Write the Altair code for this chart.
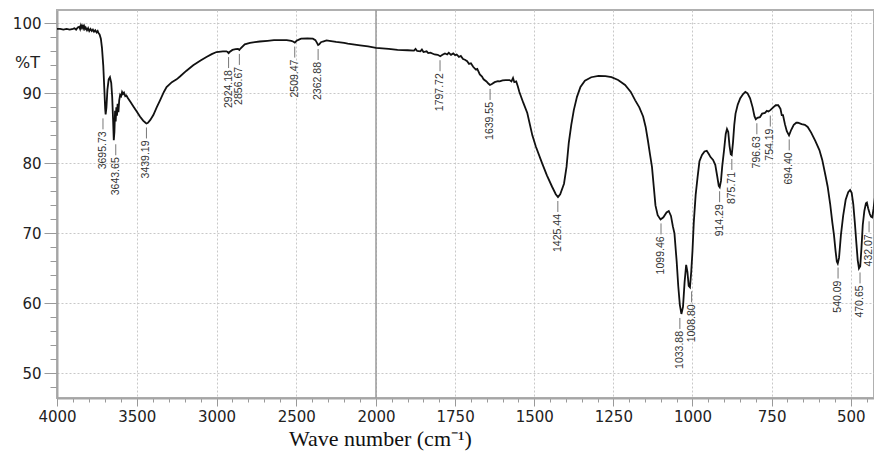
import altair as alt
import pandas as pd

# ---- spectrum (wavenumber cm-1, %T) ----
wn = [4000, 3980, 3960, 3940, 3920, 3900, 3890, 3880, 3870, 3860, 3855, 3850, 3845, 3840, 3835,
      3830, 3825, 3820, 3812, 3805, 3798, 3790, 3782, 3775, 3768, 3760, 3752, 3745, 3740, 3733,
      3725, 3718, 3710, 3703, 3698, 3695, 3690, 3684, 3676, 3668, 3660, 3654, 3648, 3644, 3640,
      3636, 3632, 3628, 3624, 3620, 3615, 3610, 3604, 3598, 3592, 3586, 3580, 3572, 3565, 3555,
      3540, 3520, 3500, 3480, 3460, 3445, 3439, 3430, 3415, 3396, 3375, 3354, 3330, 3313, 3280,
      3250, 3229, 3190, 3146, 3100, 3063, 3030, 3000, 2960, 2938, 2930, 2924, 2918, 2900, 2880,
      2865, 2857, 2850, 2823, 2790, 2760, 2729, 2680, 2640, 2604, 2560, 2531, 2520, 2509, 2498,
      2480, 2469, 2430, 2396, 2380, 2370, 2363, 2356, 2345, 2333, 2310, 2292, 2250, 2200, 2177,
      2100, 2050, 2000, 1960, 1932, 1900, 1880, 1875, 1870, 1860, 1855, 1850, 1840, 1835, 1828,
      1815, 1805, 1797, 1790, 1782, 1775, 1770, 1763, 1756, 1750, 1745, 1738, 1732, 1725, 1719,
      1712, 1706, 1700, 1693, 1685, 1680, 1672, 1665, 1660, 1651, 1645, 1640, 1635, 1625, 1615,
      1609, 1600, 1590, 1578, 1572, 1567, 1563, 1557, 1552, 1547, 1535, 1522, 1506, 1495, 1475,
      1460, 1444, 1432, 1425, 1418, 1406, 1398, 1391, 1383, 1375, 1365, 1354, 1340, 1320, 1297,
      1275, 1256, 1235, 1213, 1195, 1181, 1168, 1156, 1148, 1141, 1134, 1128, 1122, 1117, 1110,
      1101, 1092, 1082, 1075, 1068, 1062, 1057, 1050, 1045, 1040, 1035, 1030, 1025, 1020, 1016,
      1012, 1008, 1004, 1000, 996, 990, 984, 978, 970, 962, 955, 948, 943, 935, 928,
      922, 917, 914, 910, 906, 900, 895, 891, 887, 883, 879, 876, 872, 868, 864,
      857, 849, 840, 833, 826, 818, 810, 804, 800, 795, 787, 780, 771, 765, 760,
      754, 745, 737, 729, 722, 718, 714, 708, 702, 695, 688, 680, 672, 667, 655,
      645, 636, 625, 612, 599, 590, 580, 573, 565, 558, 553, 548, 544, 541, 537,
      531, 524, 516, 508, 502, 497, 492, 487, 482, 478, 474, 470, 466, 462, 457,
      452, 449, 445, 440, 436, 432, 428, 424, 420, 416.5]
T = [99.2, 99.2, 99.1, 99.2, 99.1, 99.2, 99.3, 99.1, 99.4, 99.5, 99.2, 99.7, 99.4, 99.8, 99.3,
     99.6, 99.2, 99.4, 99.0, 99.3, 98.9, 99.2, 98.9, 99.1, 98.8, 99.0, 98.7, 98.9, 98.6, 98.4,
     97.8, 96.5, 94.0, 90.5, 87.8, 87.0, 88.0, 90.5, 92.0, 92.3, 91.5, 89.5, 86.0, 83.3, 84.5,
     87.5, 86.0, 88.0, 86.8, 88.5, 87.3, 89.0, 89.8, 89.6, 90.2, 89.9, 90.1, 89.6, 89.7, 89.3,
     88.8, 88.1, 87.4, 86.7, 86.1, 85.8, 85.7, 85.8, 86.2, 86.9, 88.0, 89.0, 90.2, 90.9, 91.6,
     92.0, 92.4, 93.2, 94.0, 94.7, 95.2, 95.6, 95.9, 96.0, 96.0, 95.9, 95.75, 95.9, 96.2, 96.3,
     96.35, 96.2, 96.4, 97.0, 97.2, 97.3, 97.4, 97.5, 97.6, 97.6, 97.6, 97.5, 97.4, 97.25, 97.5,
     97.7, 97.8, 97.85, 97.8, 97.6, 97.2, 96.9, 97.0, 97.3, 97.4, 97.55, 97.5, 97.35, 97.2, 97.1,
     96.85, 96.7, 96.5, 96.35, 96.2, 96.15, 96.1, 96.35, 96.05, 96.0, 96.25, 95.9, 96.0, 95.75, 95.8,
     95.55, 95.5, 95.3, 95.5, 95.7, 95.55, 95.8, 95.5, 95.7, 95.45, 95.55, 95.2, 95.35, 94.9, 94.8,
     94.6, 94.2, 94.3, 93.8, 93.4, 93.5, 92.7, 92.4, 92.0, 91.7, 91.4, 91.2, 91.3, 91.6, 91.75,
     91.7, 91.85, 91.9, 91.9, 91.7, 92.2, 91.6, 91.7, 91.0, 90.2, 88.7, 87.2, 84.0, 82.4, 80.0,
     78.3, 76.7, 75.6, 75.2, 75.6, 77.1, 79.5, 82.9, 85.5, 87.6, 89.5, 90.9, 91.8, 92.3, 92.5,
     92.45, 92.3, 91.9, 91.2, 90.2, 89.0, 88.0, 86.7, 85.2, 83.3, 81.2, 79.5, 76.5, 74.0, 72.6,
     72.0, 72.3, 73.0, 73.2, 72.5, 71.0, 70.0, 66.0, 62.5, 59.8, 58.5, 59.5, 63.0, 65.5, 64.5,
     62.5, 62.3, 64.5, 67.5, 71.5, 75.5, 78.0, 80.3, 81.2, 81.7, 81.8, 81.3, 80.9, 80.5, 79.8,
     78.2, 76.8, 76.6, 77.5, 79.6, 82.0, 84.2, 84.9, 84.5, 82.5, 81.3, 81.2, 83.0, 85.5, 87.1,
     88.4, 89.3, 89.9, 90.2, 90.0, 89.3, 88.0, 86.7, 86.3, 86.5, 86.6, 87.1, 87.2, 87.5, 87.4,
     87.6, 88.0, 88.3, 88.3, 87.8, 86.9, 86.9, 85.6, 84.6, 84.0, 84.8, 85.5, 85.8, 85.8, 85.6,
     85.5, 85.2, 84.4, 83.2, 81.9, 80.5, 78.3, 76.7, 74.2, 71.5, 69.8, 67.5, 66.0, 65.7, 66.5,
     69.8, 72.5, 74.8, 75.9, 76.2, 75.8, 74.2, 71.5, 68.5, 66.2, 65.0, 65.3, 68.0, 71.2, 73.2,
     74.3, 74.4, 73.6, 72.8, 72.4, 72.3, 73.5, 75.0, 75.7, 76.0]

# ---- labelled peaks ----
peak_text = ["3695.73", "3643.65", "3439.19", "2924.18", "2856.67", "2509.47", "2362.88",
             "1797.72", "1639.55", "1425.44", "1099.46", "1033.88", "1008.80", "914.29",
             "875.71", "796.63", "754.19", "694.40", "540.09", "470.65", "432.07"]
peak_T = [87.0, 83.3, 85.7, 95.75, 96.2, 97.25, 96.9, 95.3, 91.2, 75.2, 72.0, 58.5, 62.3,
          76.6, 81.2, 86.3, 87.4, 84.0, 65.7, 65.0, 72.3]
peak_wn = [float(s) for s in peak_text]
# small sideways nudges of crowded labels (in wavenumber units)
nudge = {"3695.73": 16, "3643.65": -12, "1033.88": 6, "1008.80": -6, "432.07": 10}
label_wn = [w + nudge.get(s, 0) for w, s in zip(peak_wn, peak_text)]

x_ticks = list(range(4000, 2000, -100)) + list(range(2000, 449, -50))
y_ticks = list(range(48, 103, 2))
divider = [2000]

df = pd.DataFrame({"wn": wn, "T": T})
dfp = pd.DataFrame({"wn": peak_wn, "lx": label_wn, "T": peak_T, "txt": peak_text})
dfd = pd.DataFrame({"wn": divider})

FONT = "DejaVu Sans"
MAJX = "(datum.value % 250 == 0 && (datum.value <= 2000 || datum.value % 500 == 0))"
MAJY = "(datum.value % 10 == 0)"

xscale = alt.Scale(domain=[4000, 2000, 426.5], range=[0, 319, 817], zero=False, nice=False)
yscale = alt.Scale(domain=[46.5, 101.9], zero=False, nice=False)

x_axis = alt.Axis(
    values=x_ticks, format="d", labelExpr=f"{MAJX} ? datum.label : ''",
    tickSize={"condition": {"test": MAJX, "value": 8}, "value": 4},
    tickColor="#999", tickWidth=1, domainColor="#a5a5a5", domainWidth=2,
    grid=True, gridColor="#c8c8c8", gridDash=[2, 2], gridWidth=1,
    gridOpacity={"condition": {"test": MAJX, "value": 1}, "value": 0},
    labelFont=FONT, labelFontSize=15, labelColor="#222", labelPadding=3,
    labelFlush=False, labelOverlap=False,
    title="Wave number (cm\u207b\u00b9)", titleFont="Liberation Serif", titleFontSize=22,
    titleFontWeight="normal", titleColor="#111", titleX=323, titleY=30,
    titleAlign="center", titleBaseline="top",
)
y_axis = alt.Axis(
    values=y_ticks, format="d", labelExpr=f"{MAJY} ? datum.label : ''",
    tickSize={"condition": {"test": MAJY, "value": 13}, "value": 7},
    tickColor="#999", tickWidth=1, domainColor="#a5a5a5", domainWidth=2,
    grid=True, gridColor="#c8c8c8", gridDash=[2, 2], gridWidth=1,
    gridOpacity={"condition": {"test": MAJY, "value": 1}, "value": 0},
    labelFont=FONT, labelFontSize=15, labelColor="#222", labelPadding=3,
    labelFlush=False, labelOverlap=False,
    title="%T", titleAngle=0, titleFont=FONT, titleFontSize=16, titleFontWeight="normal",
    titleColor="#222", titleX=-30, titleY=52, titleAlign="center", titleBaseline="middle",
)

def X(field):
    return alt.X(field, type="quantitative", scale=xscale, axis=x_axis)

def Y(field):
    return alt.Y(field, type="quantitative", scale=yscale, axis=y_axis)

divider_rule = alt.Chart(dfd).mark_rule(color="#9a9a9a", strokeWidth=1.5).encode(x=X("wn"))

line = alt.Chart(df).mark_line(color="#111", strokeWidth=1.8, clip=True).encode(
    x=X("wn"), y=Y("T"), order=alt.Order("wn", sort="descending"))

leaders = alt.Chart(dfp).mark_rule(color="#777", strokeWidth=1, yOffset=4, y2Offset=15).encode(
    x=X("lx"), y=Y("T"), y2="T")

labels = alt.Chart(dfp).mark_text(angle=270, align="right", baseline="middle", yOffset=17,
                                  font="Liberation Sans", fontSize=10.5, color="#333").encode(
    x=X("lx"), y=Y("T"), text="txt")

chart = alt.layer(divider_rule, line, leaders, labels).properties(
    width=817, height=388,
    padding={"left": 49, "top": 2, "right": 0, "bottom": 57},
    autosize=alt.AutoSizeParams(type="none"),
    background="white",
).configure_view(stroke="#b0b0b0", strokeWidth=2)

chart.save("out.html", embed_options={"renderer": "svg", "actions": False})
